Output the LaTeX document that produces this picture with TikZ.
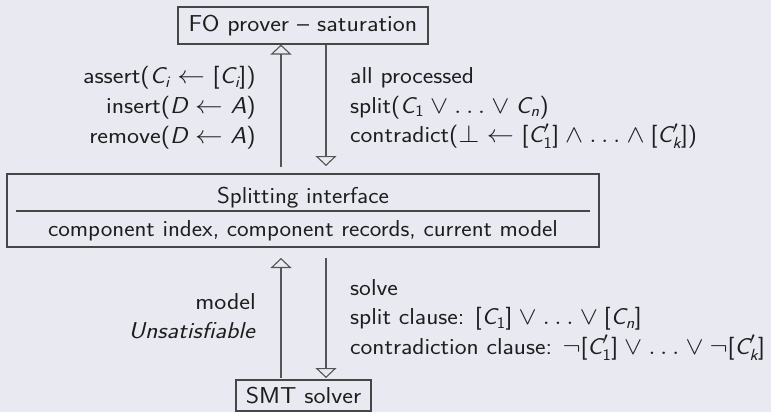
\documentclass[tikz,border=0pt]{standalone}
\usepackage{amsmath}
\usetikzlibrary{arrows.meta}
\definecolor{bgc}{RGB}{233,233,242}
\definecolor{ink}{RGB}{30,30,30}
\definecolor{linec}{RGB}{70,70,70}
\definecolor{arrc}{RGB}{85,85,85}
\newcommand\mv[1]{\text{\itshape #1}}
\newcommand\md[1]{\text{\upshape #1}}
\newcommand\lp{\mathopen{\text{\upshape (}}}
\newcommand\rp{\mathclose{\text{\upshape )}}}
\newcommand\lb{\mathopen{\text{\upshape [}}}
\newcommand\rb{\mathclose{\text{\upshape ]}}}
\newcommand\hs[1]{\scalebox{1.11}[1]{#1}}
\newcommand\hr[1]{\scalebox{1.09}[1]{#1}}
\newcommand\hm[1]{\scalebox{1.07}[1]{#1}}
\begin{document}
\begin{tikzpicture}[x=1pt,y=-1pt,
  font=\fontsize{23}{29.5}\selectfont\sffamily, text=ink,
  box/.style={draw=linec, line width=1.1pt, inner sep=0pt},
  lbl/.style={inner sep=0pt},
  arr/.style={draw=arrc, line width=1.1pt, -{Triangle[open, width=21pt, length=10pt]}}]
\path[use as bounding box, fill=bgc] (0,0) rectangle (771,412);
% boxes
\node[box, minimum width=250pt, minimum height=37pt] (fo) at (303,25.5) {\hs{FO prover -- saturation}};
\node[box, minimum width=592pt, minimum height=73pt] (si) at (303,210.5) {};
\node[lbl, anchor=base] (si1) at (303,203) {\hm{Splitting interface}};
\node[lbl, anchor=base] (si2) at (303,236) {\hm{component index, component records, current model}};
\coordinate (sepl) at (16,211);
\coordinate (sepr) at (590,211);
\draw[linec, line width=1.1pt] (sepl) -- (sepr);
\node[box, minimum width=135pt, minimum height=31pt] (smt) at (303.5,395.5) {\hs{SMT solver}};
% arrow end points
\coordinate (a1) at (281,167);
\coordinate (a2) at (326,166);
\coordinate (a3t) at (281,258);
\coordinate (a3b) at (281,378);
\coordinate (a4t) at (326,258);
\coordinate (a4b) at (326,378);
\draw[arr] (a1) -- (a1 |- fo.south);
\draw[arr] (a2 |- fo.south) -- (a2);
\draw[arr] (a3b) -- (a3t);
\draw[arr] (a4t) -- (a4b);
% labels
\node[lbl, anchor=base east] (lt) at (256,84)
  {\hs{\begin{tabular}[t]{@{}r@{}}
   assert$\lp\mv{C}_{\mv{i}} \leftarrow \lb\mv{C}_{\mv{i}}\rb\rp$\\
   insert$\lp\mv{D} \leftarrow \mv{A}\rp$\\
   remove$\lp\mv{D} \leftarrow \mv{A}\rp$\end{tabular}}};
\node[lbl, anchor=base west] (rt) at (350,83.5)
  {\hr{\begin{tabular}[t]{@{}l@{}}
   all processed\\
   split$\lp\mv{C}_{\md{1}} \vee \ldots \vee \mv{C}_{\mv{n}}\rp$\\
   contradict$\lp\bot \leftarrow \lb\mv{C}'_{\md{1}}\rb \wedge \ldots \wedge \lb\mv{C}'_{\mv{k}}\rb\rp$\end{tabular}}};
\node[lbl, anchor=base east] (lb) at (256,309)
  {\hs{\begin{tabular}[t]{@{}r@{}}
   model\\ \textit{Unsatisfiable}\end{tabular}}};
\node[lbl, anchor=base west] (rb) at (350,295)
  {\hr{\begin{tabular}[t]{@{}l@{}}
   solve\\
   split clause: $\lb\mv{C}_{\md{1}}\rb \vee \ldots \vee \lb\mv{C}_{\mv{n}}\rb$\\
   contradiction clause: $\neg\lb\mv{C}'_{\md{1}}\rb \vee \ldots \vee \neg\lb\mv{C}'_{\mv{k}}\rb$\end{tabular}}};
\end{tikzpicture}
\end{document}
